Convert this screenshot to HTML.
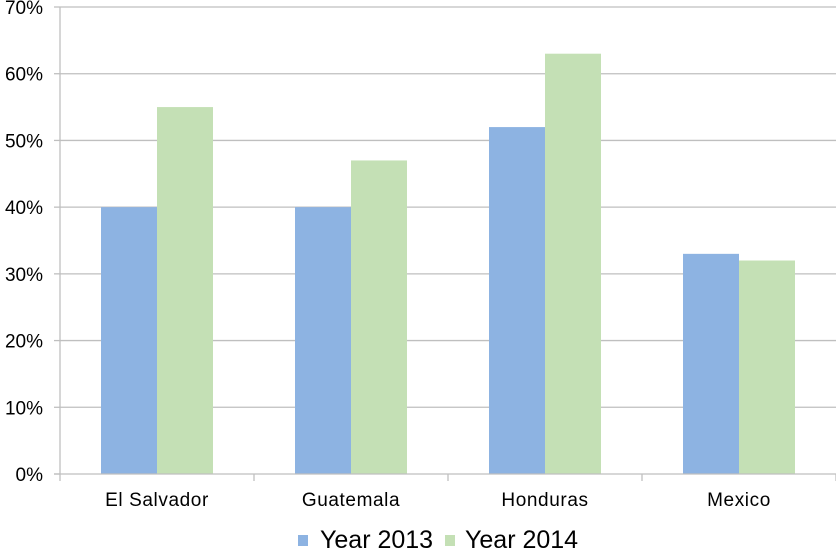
<!DOCTYPE html>
<html><head><meta charset="utf-8"><style>
body{margin:0;background:#fff;font-family:"Liberation Sans",sans-serif;}
svg text{font-family:"Liberation Sans",sans-serif;fill:#000;}
</style></head><body>
<svg width="836" height="549">
<g id="grid"></g><g id="bars"></g><g id="axes"></g>
<g>
<rect x="298" y="535" width="10" height="11" fill="#8db3e2"/>
<text x="320" y="548" font-size="25">Year 2013</text>
<rect x="445" y="535" width="10" height="11" fill="#c4e0b5"/>
<text x="465" y="548" font-size="25">Year 2014</text>
</g>
</svg>
<script>
const categories=["El Salvador","Guatemala","Honduras","Mexico"];
const year2013=[40,40,52,33];
const year2014=[55,47,63,32];
const yTicks=[0,10,20,30,40,50,60,70];
const NS="http://www.w3.org/2000/svg";
const x0=60,x1=836,y0=474,yTop=7,yMax=70;
const y=v=>y0-(v/yMax)*(y0-yTop);
const bw=(x1-x0)/categories.length;
const barW=56;
function mk(t,a,p){const e=document.createElementNS(NS,t);for(const k in a)e.setAttribute(k,a[k]);p.appendChild(e);return e;}
const grid=document.getElementById('grid'),bars=document.getElementById('bars'),axes=document.getElementById('axes');
yTicks.forEach(t=>{
 if(t>0){const l=mk('line',{x1:x0,x2:x1,y1:y(t),y2:y(t),stroke:'#bfbfbf','stroke-width':1.3},grid);
 
 }
 const tx=mk('text',{x:43,y:y(t)+7,'text-anchor':'end','font-size':19},axes);tx.textContent=t+'%';
 
 
 const tk=mk('line',{x1:x0-6,x2:x0,y1:y(t),y2:y(t),stroke:'#bfbfbf','stroke-width':1.3},axes);
 
 
});
categories.forEach((c,i)=>{
 const cx=x0+bw*(i+0.5);
 const b1=mk('rect',{x:cx-barW,y:y(year2013[i]),width:barW,height:y0-y(year2013[i]),fill:'#8db3e2'},bars);
 
 
 const b2=mk('rect',{x:cx,y:y(year2014[i]),width:barW,height:y0-y(year2014[i]),fill:'#c4e0b5'},bars);
 
 
 const tx=mk('text',{x:cx,y:506,'text-anchor':'middle','font-size':19,'letter-spacing':0.6},axes);tx.textContent=c;
 
 
});
for(let i=0;i<=categories.length;i++){const tk=mk('line',{x1:x0+bw*i,x2:x0+bw*i,y1:y0,y2:y0+7,stroke:'#bfbfbf','stroke-width':1.3},axes);
 
 }
const ya=mk('line',{x1:x0,x2:x0,y1:yTop,y2:y0,stroke:'#bfbfbf','stroke-width':1.3},axes);


const xa=mk('line',{x1:x0-6,x2:x1,y1:y0,y2:y0,stroke:'#bfbfbf','stroke-width':1.3},axes);


</script>
</body></html>
